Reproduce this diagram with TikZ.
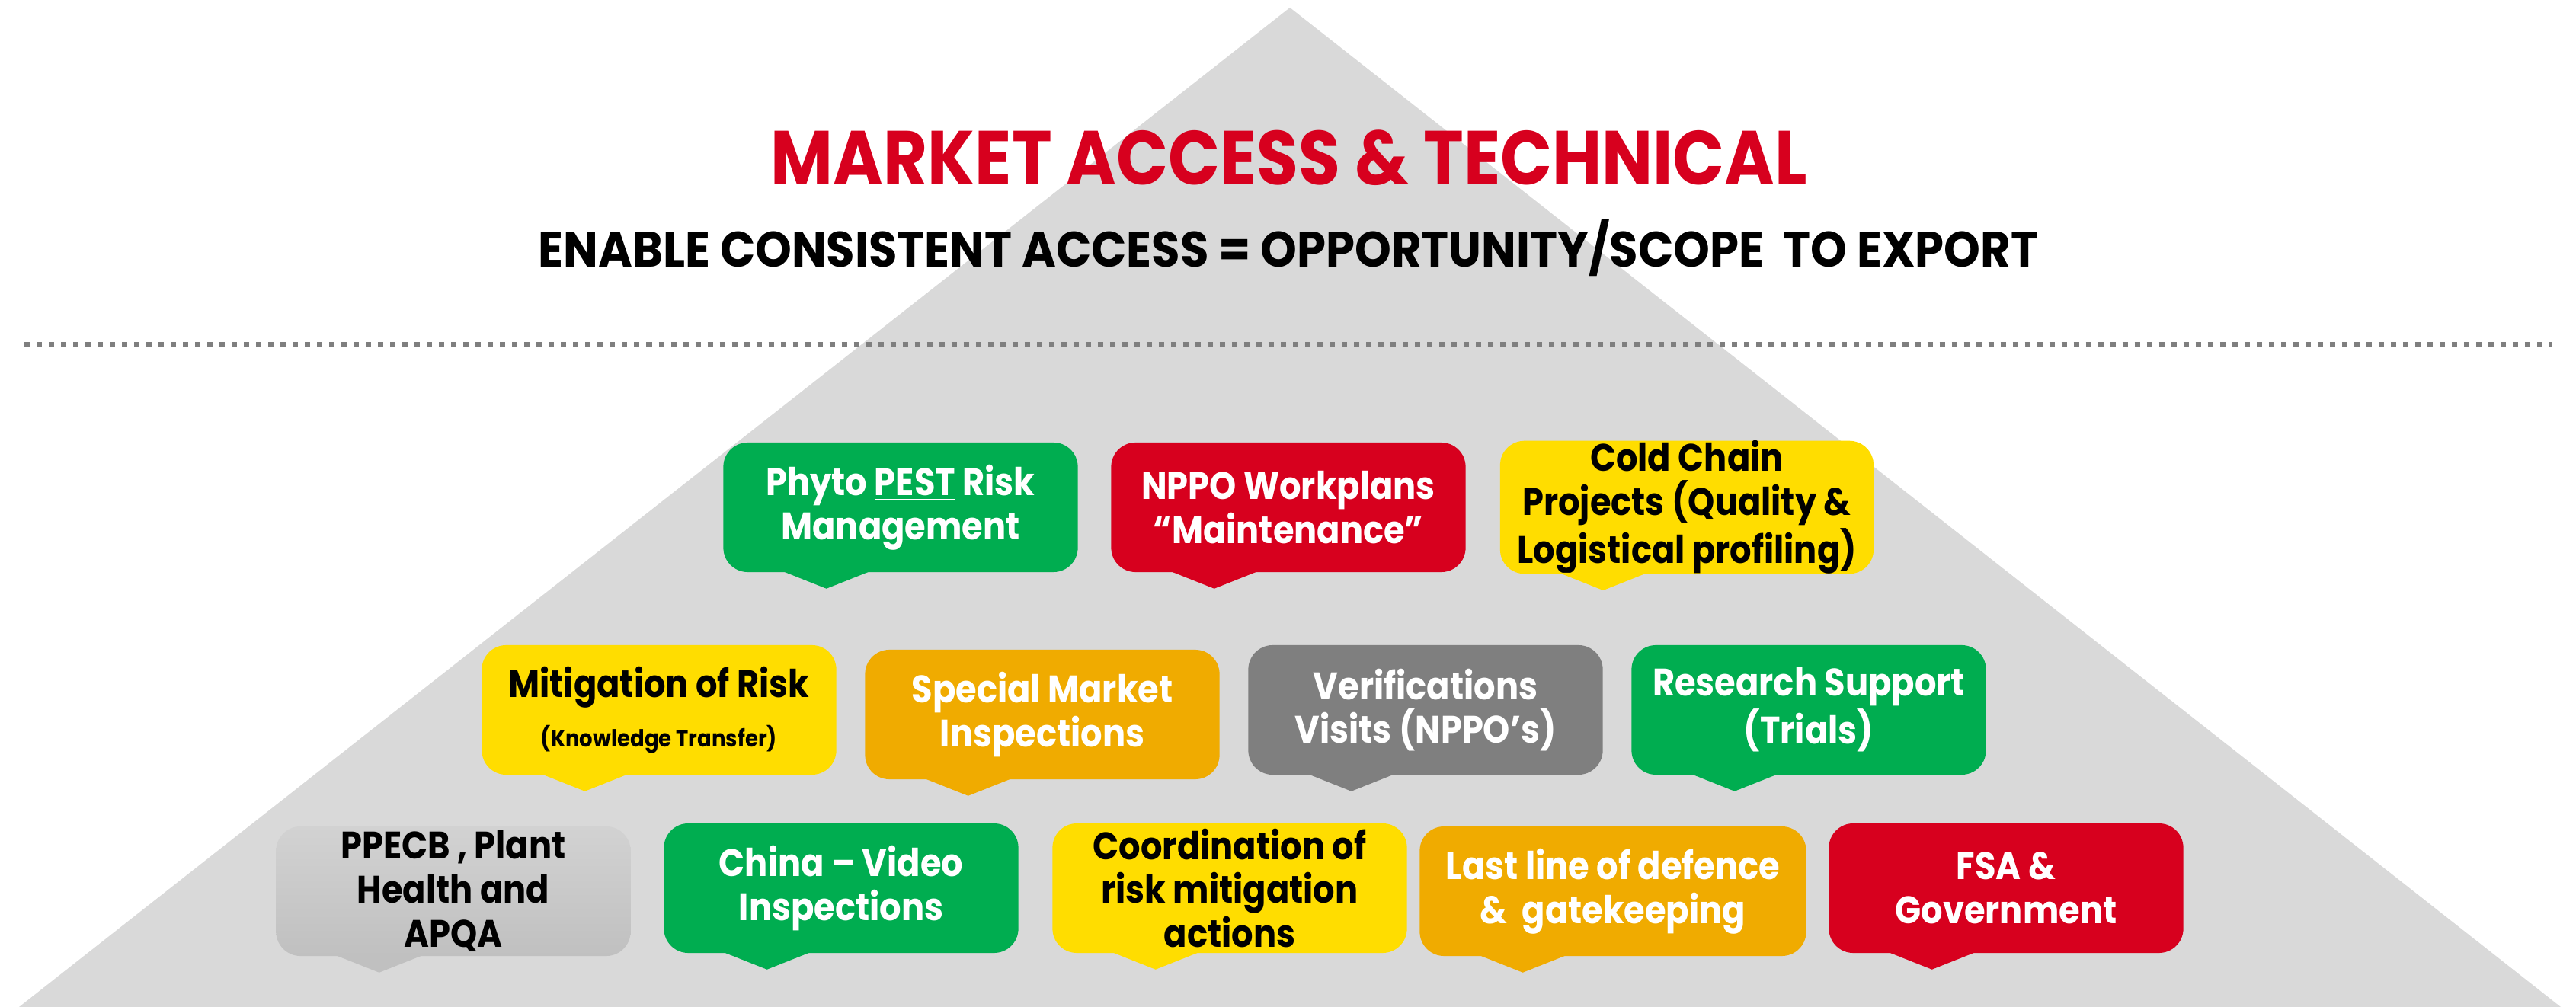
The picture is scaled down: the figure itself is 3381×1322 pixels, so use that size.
\documentclass[tikz,border=0pt]{standalone}
\usepackage{fontspec}
\setmainfont{Poppins}[FakeStretch=0.89]
\newfontfamily\subfont{Poppins}[FakeStretch=0.93]
\definecolor{mgreen}{RGB}{0,173,80}
\definecolor{mred}{RGB}{215,0,30}
\definecolor{myellow}{RGB}{255,221,0}
\definecolor{morange}{RGB}{240,171,0}
\definecolor{mdgray}{RGB}{127,127,127}
\definecolor{mlgraytop}{RGB}{210,210,210}
\definecolor{mlgraybot}{RGB}{192,192,192}
\definecolor{mpyramid}{RGB}{217,217,217}
\tikzset{
  bubble/.style={rounded corners=0.32cm, minimum width=4.65cm, minimum height=1.7cm,
    inner sep=0pt, align=center, font=\fontsize{14.3}{16.4}\selectfont\bfseries},
  title/.style={anchor=base, text=mred, font=\fontsize{28.5}{30}\selectfont\bfseries},
  subtitle/.style={anchor=base, font=\subfont\fontsize{18.6}{20}\selectfont\bfseries},
  divider/.style={mdgray, line width=0.07cm, dash pattern=on 0.07cm off 0.09cm}
}
\begin{document}
\begin{tikzpicture}[x=0.01cm, y=-0.01cm]
\useasboundingbox (0,0) rectangle (3381,1322);
% pyramid in the background
\fill[mpyramid] (1693,10) -- (3361,1322) -- (25,1322) -- cycle;
% headings
\node[title] (head) at (1692,243) {MARKET ACCESS \& TECHNICAL};
\node[subtitle] (sub) at (1691,351) {ENABLE CONSISTENT ACCESS = OPPORTUNITY/SCOPE\ \ TO EXPORT};
\draw[divider] (32,453) -- (3350,453);
% top row
\node[bubble, fill=mgreen, text=white] (phyto) at (1182,666) {Phyto \underline{PEST} Risk\\Management};
\node[bubble, fill=mred, text=white] (nppo) at (1691,666) {NPPO Workplans\\“Maintenance”};
\node[bubble, fill=myellow, minimum width=4.9cm] (cold) at (2214,666) {Cold Chain\\Projects (Quality \&\\Logistical profiling)};
% middle row
\node[bubble, fill=myellow] (mitig) at (865,932) {Mitigation of Risk\\[2pt]{\fontsize{8.8}{11}\selectfont(Knowledge Transfer)}};
\node[bubble, fill=morange, text=white] (special) at (1368,938) {Special Market\\Inspections};
\node[bubble, fill=mdgray, text=white] (verif) at (1871,932) {Verifications\\Visits (NPPO’s)};
\node[bubble, fill=mgreen, text=white] (research) at (2374,932) {Research Support\\(Trials)};
% bottom row
\node[bubble, top color=mlgraytop, bottom color=mlgraybot] (ppecb) at (595,1170) {PPECB , Plant\\Health and\\APQA};
\node[bubble, fill=mgreen, text=white] (china) at (1104,1166) {China – Video\\Inspections};
\node[bubble, fill=myellow] (coord) at (1614,1166) {Coordination of\\risk mitigation\\actions};
\node[bubble, fill=morange, text=white, minimum width=5.07cm] (lastline) at (2117,1170) {Last line of defence\\\&\ \ gatekeeping};
\node[bubble, fill=mred, text=white] (fsa) at (2633,1166) {FSA \&\\Government};
% speech tails
\foreach \n/\c in {phyto/mgreen, nppo/mred, cold/myellow, mitig/myellow, special/morange,
    verif/mdgray, research/mgreen, ppecb/mlgraybot, china/mgreen, coord/myellow,
    lastline/morange, fsa/mred}
  \fill[\c] (\n.south west) ++(78,-2) -- ++(58,23) -- ++(58,-23) -- cycle;
\end{tikzpicture}
\end{document}
